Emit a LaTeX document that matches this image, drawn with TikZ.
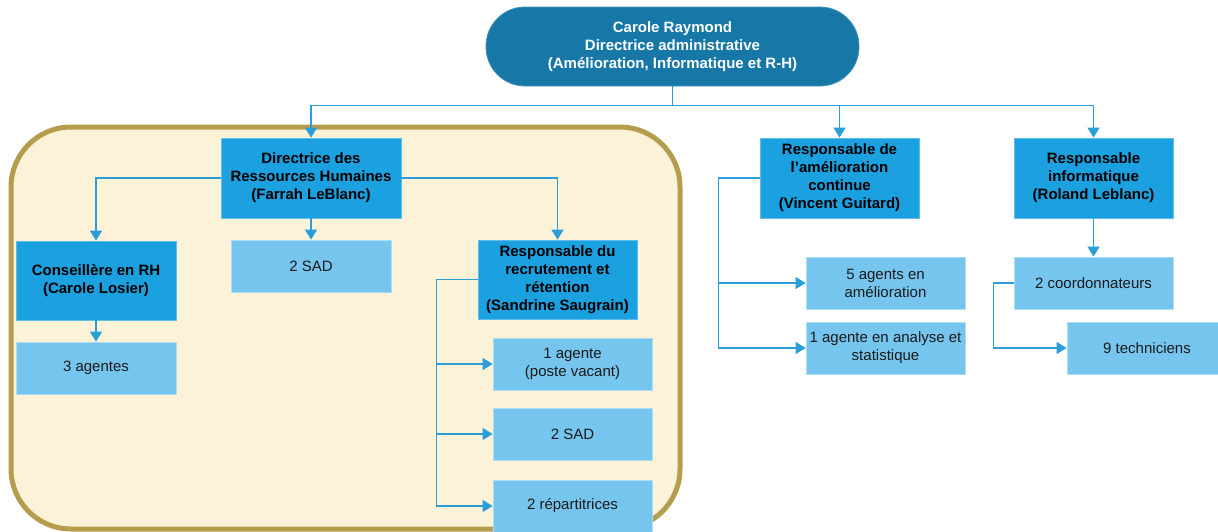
\documentclass[tikz,border=0pt]{standalone}
\usepackage{fontspec}
\setmainfont{Liberation Sans}
\usetikzlibrary{arrows.meta}
\definecolor{pill}{HTML}{1778A8}
\definecolor{darkbox}{HTML}{1BA0E0}
\definecolor{lightbox}{HTML}{76C5EE}
\definecolor{conn}{HTML}{2B9DD8}
\definecolor{gold}{HTML}{B59D4E}
\definecolor{beige}{HTML}{FBF2D8}
\definecolor{txt}{HTML}{1A1A1A}
\tikzset{
  x=1pt, y=-1pt,
  boxbase/.style={rectangle, inner sep=2pt, align=center, font=\fontsize{15}{18}\selectfont},
  headbox/.style={boxbase, fill=darkbox, draw=darkbox!70!white, line width=0.8pt, text=black, font=\fontsize{15}{18}\selectfont\bfseries, minimum width=159pt, minimum height=80pt},
  unitbox/.style={boxbase, fill=lightbox, draw=lightbox!60!white, line width=0.8pt, text=txt, minimum width=159pt, minimum height=52pt},
  topbox/.style={boxbase, fill=pill, draw=pill!80!white, line width=0.8pt, text=white, font=\fontsize{15}{18}\selectfont\bfseries, minimum width=373pt, minimum height=79pt, rounded corners=39pt},
  conline/.style={draw=conn, line width=1.4pt},
  arr/.style={conline, -{Triangle[width=12pt,length=10pt]}}
}
\begin{document}
\begin{tikzpicture}
\useasboundingbox (0,0) rectangle (1218,531);
\clip (0,0) rectangle (1218,531);
% group background
\draw[line width=5pt, draw=gold, fill=beige, rounded corners=60pt] (11,127) rectangle (680,529);
% nodes
\node[topbox] (top) at (672.5,46.5) {Carole Raymond\\Directrice administrative\\(Amélioration, Informatique et R-H)};
\node[headbox, minimum width=180pt] (drh) at (311,178) {Directrice des\\Ressources Humaines\\(Farrah LeBlanc)};
\node[unitbox, minimum width=160pt] (sadA) at (311,266) {2 SAD};
\node[headbox, minimum width=160pt, minimum height=79pt] (cons) at (96,280.5) {Conseillère en RH\\(Carole Losier)};
\node[unitbox, minimum width=160pt] (agt3) at (96,368) {3 agentes};
\node[headbox, minimum height=79pt] (recr) at (557.5,279.5) {Responsable du\\recrutement et\\rétention\\(Sandrine Saugrain)};
\node[unitbox] (agv) at (572.5,364) {1 agente\\(poste vacant)};
\node[unitbox] (sadB) at (572.5,434) {2 SAD};
\node[unitbox] (rep) at (572.5,506) {2 répartitrices};
\node[headbox] (amel) at (839.5,178) {Responsable de\\l’amélioration\\continue\\(Vincent Guitard)};
\node[unitbox] (ag5) at (885.5,283) {5 agents en\\amélioration};
\node[unitbox] (ag1) at (885.5,348) {1 agente en analyse et\\statistique};
\node[headbox] (info) at (1093.5,178) {Responsable\\informatique\\(Roland Leblanc)};
\node[unitbox] (coord) at (1093.5,283) {2 coordonnateurs};
\node[unitbox, minimum width=160pt] (tech) at (1147,348) {9 techniciens};
% connectors
\draw[conline] (top.south) -- ++(0,19) coordinate (j);
\draw[arr] (j) -| (drh.north);
\draw[arr] (j) -| (amel.north);
\draw[arr] (j) -| (info.north);
\draw[arr] (drh.west) -| (cons.north);
\draw[arr] (drh.east) -| (recr.north);
\draw[arr] (drh.south) -- (sadA.north);
\draw[arr] (cons.south) -- (agt3.north);
\draw[arr] (recr.west) -- ([xshift=-41pt]recr.west) |- (agv.west);
\draw[arr] ([xshift=-41pt]recr.west) |- (sadB.west);
\draw[arr] ([xshift=-41pt]recr.west) |- (rep.west);
\draw[arr] (amel.west) -- ([xshift=-41pt]amel.west) |- (ag5.west);
\draw[arr] ([xshift=-41pt]amel.west) |- (ag1.west);
\draw[arr] (info.south) -- (coord.north);
\draw[arr] (coord.west) -- ([xshift=-20pt]coord.west) |- (tech.west);
\end{tikzpicture}
\end{document}
